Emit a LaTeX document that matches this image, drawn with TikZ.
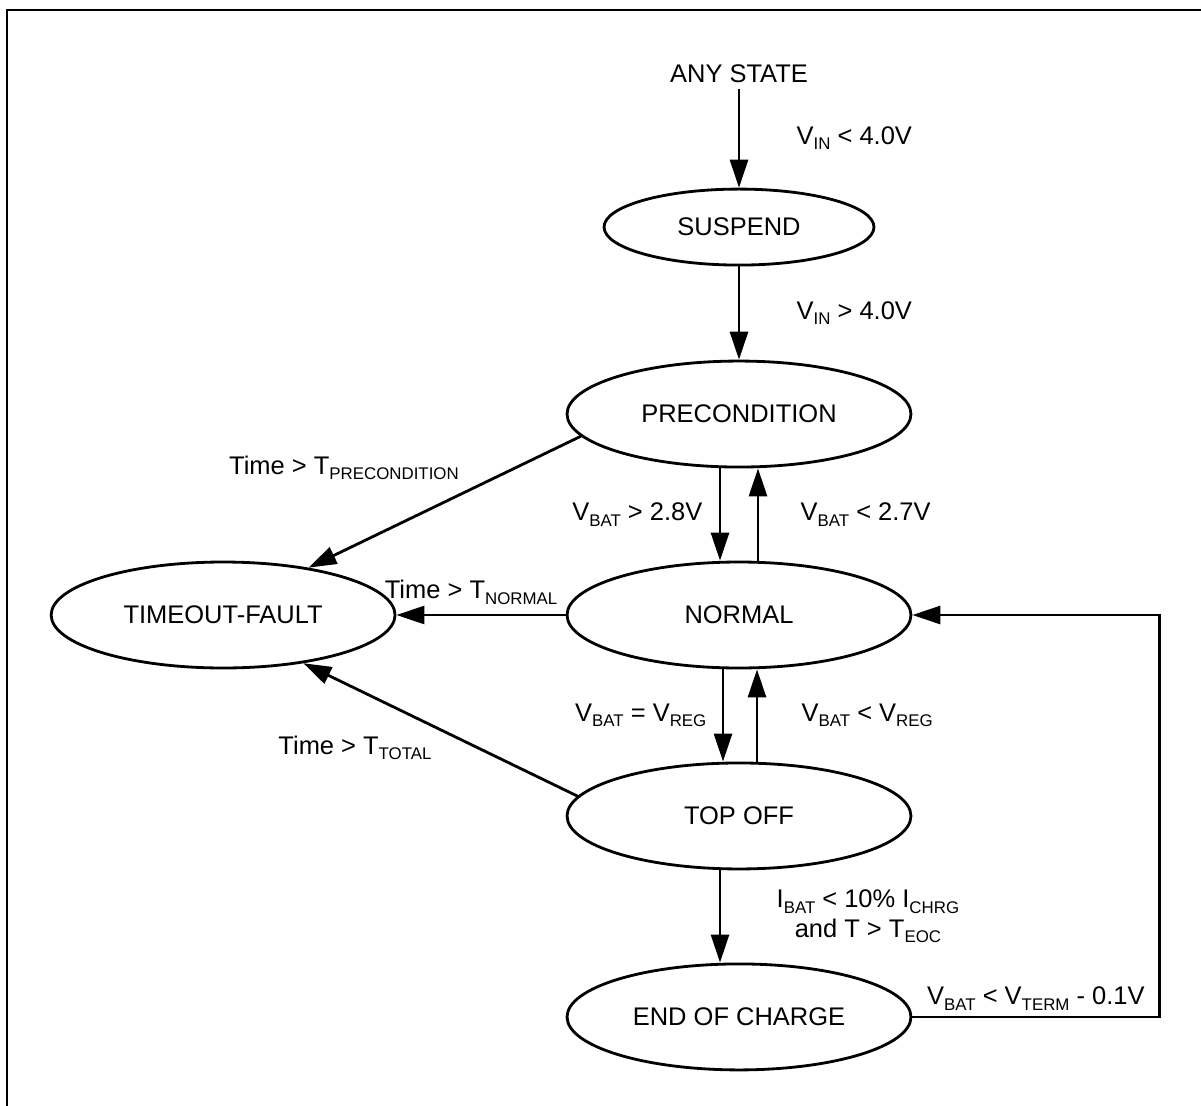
\documentclass[tikz,border=0pt]{standalone}
\usepackage{fontspec}
\setmainfont{Liberation Sans}
\usepackage{tikz}
\usetikzlibrary{shapes.geometric, arrows.meta, positioning, calc}
\tikzstyle{state} = [ellipse, draw=black, line width=1.6pt, minimum width=6.88cm,
minimum height=2.12cm, inner sep=0pt, text centered, font=\fontsize{14.5}{17}\selectfont]
\tikzstyle{small} = [minimum width=5.4cm, minimum height=1.52cm]
\tikzstyle{lbl} = [font=\fontsize{14.5}{17}\selectfont, inner sep=3pt]
\tikzstyle{arrow} = [line width=1.6pt, ->, >={Triangle[length=0.56cm, width=0.36cm]}]
\newcommand{\lowsub}[1]{\raisebox{-0.4ex}{\fontsize{9.6}{10}\selectfont #1}}

\begin{document}
\begin{tikzpicture}[x=0.02cm, y=-0.02cm, on grid, node distance=4.02cm]
    \useasboundingbox (0,0) rectangle (1201,1106);
    \draw[line width=1pt] (7,1106) -- (7,10) -- (1201,10);

    \node (N) [state] at (739,615) {NORMAL}; \node (P) [state, above=of N]
    {PRECONDITION}; \node (S) [state, small, above=3.74cm of P] {SUSPEND};
    \node (A) [lbl, above=3.06cm of S] {ANY STATE}; \node (TO) [state,
      below=of N] {TOP OFF}; \node (E) [state, below=4.02cm of TO] {END OF
      CHARGE}; \node (TF) [state, left=10.32cm of N] {TIMEOUT-FAULT};

    \coordinate (R) at ([xshift=4.94cm]N.east); % return line on the right

    \draw [arrow] (A) -- node[lbl, midway, right=1.02cm] {V\lowsub{IN} <
      4.0V} (S); \draw [arrow] (S) -- node[lbl, midway, right=1.02cm]
    {V\lowsub{IN} > 4.0V} (P);
    \draw [arrow] ([xshift=-0.38cm]P.south) -- node[lbl, midway, left=0.22cm]
    {V\lowsub{BAT} > 2.8V} ([xshift=-0.38cm]N.north); \draw [arrow]
    ([xshift=0.38cm]N.north) -- node[lbl, midway, right=0.72cm]
    {V\lowsub{BAT} < 2.7V} ([xshift=0.38cm]P.south);
    \draw [arrow] ([xshift=-0.32cm]N.south) -- node[lbl, midway, left=0.2cm]
    {V\lowsub{BAT} = V\lowsub{REG}} ([xshift=-0.32cm]TO.north); \draw [arrow]
    ([xshift=0.36cm]TO.north) -- node[lbl, midway, right=0.76cm]
    {V\lowsub{BAT} < V\lowsub{REG}} ([xshift=0.36cm]N.south);
    \draw [arrow] ([xshift=-0.38cm]TO.south) -- node[lbl, midway, right=1.0cm,
      anchor=west, align=center] {I\lowsub{BAT} < 10\% I\lowsub{CHRG}\\and T >
      T\lowsub{EOC}} ([xshift=-0.38cm]E.north);
    \draw [arrow] (P.188) -- (TF.29); \node [lbl] at (344,468) {Time >
      T\lowsub{PRECONDITION}};
    \draw [arrow] (N.west) -- node[lbl, midway, above, xshift=-0.2cm,
      yshift=0.08cm] {Time > T\lowsub{NORMAL}} (TF.east);
    \draw [arrow] (TO.173) -- (TF.329); \node [lbl] at (355,748) {Time >
      T\lowsub{TOTAL}};
    \draw [arrow] (E.east) -| node[lbl, pos=0.25, above] {V\lowsub{BAT} <
      V\lowsub{TERM} - 0.1V} (R) -- (N.east);

  \end{tikzpicture}
\end{document}
